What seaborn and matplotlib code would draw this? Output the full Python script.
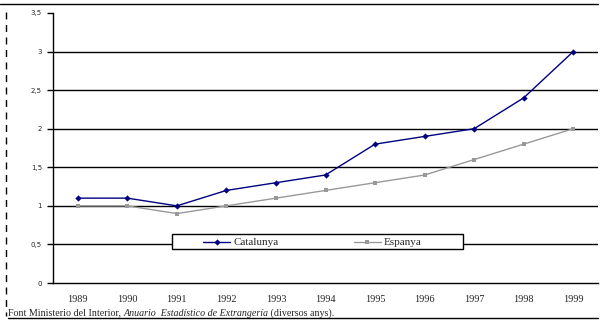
import matplotlib
matplotlib.use("Agg")
import matplotlib.pyplot as plt
import seaborn as sns
import pandas as pd
import numpy as np
from matplotlib.lines import Line2D
from matplotlib.patches import Rectangle

years = ["1989", "1990", "1991", "1992", "1993", "1994", "1995", "1996", "1997", "1998", "1999"]
catalunya = [1.1, 1.1, 1.0, 1.2, 1.3, 1.4, 1.8, 1.9, 2.0, 2.4, 3.0]
espanya = [1.0, 1.0, 0.9, 1.0, 1.1, 1.2, 1.3, 1.4, 1.6, 1.8, 2.0]
yticks = [0, 0.5, 1, 1.5, 2, 2.5, 3, 3.5]
ytick_labels = ["0", "0,5", "1", "1,5", "2", "2,5", "3", "3,5"]

sns.set_style("white")
plt.rcParams["font.family"] = ["Liberation Serif", "DejaVu Serif"]

fig = plt.figure(figsize=(6.06, 3.26), dpi=100)
ax = fig.add_axes([53/606, 1-283/326, 545/606, 270/326])

idx = np.arange(len(years))
df = pd.DataFrame({"x": idx, "Catalunya": catalunya, "Espanya": espanya})

for yv in yticks[1:-1]:
    ax.axhline(yv, color="black", lw=1.0, zorder=1)

sns.lineplot(data=df, x="x", y="Espanya", ax=ax, color="#999999", lw=1.0,
             marker="s", markersize=3.5, markeredgewidth=0, zorder=3)
sns.lineplot(data=df, x="x", y="Catalunya", ax=ax, color="#000080", lw=1.0,
             marker="D", markersize=3.2, markeredgewidth=0, zorder=4)

ax.set_xlim(-0.5, len(years) - 0.5)
ax.set_ylim(0, 3.5)
ax.set_xlabel("")
ax.set_ylabel("")
ax.set_xticks(idx)
ax.set_xticklabels(years, fontsize=7.4)
ax.set_xticks(np.arange(-0.5, len(years), 1), minor=True)
ax.tick_params(axis="x", which="major", length=0, pad=9)
ax.tick_params(axis="x", which="minor", length=4, width=1, color="black", direction="out")
ax.set_yticks(yticks)
ax.set_yticklabels(ytick_labels, fontsize=5, family="DejaVu Sans")
ax.tick_params(axis="y", length=4, width=1, color="black", direction="out", pad=4, left=True)
for s in ["top", "right"]:
    ax.spines[s].set_visible(False)
for s in ["left", "bottom"]:
    ax.spines[s].set_color("black")
    ax.spines[s].set_linewidth(1.0)

# legend box
bx, by, bw, bh = 119/545, 34/270, 291/545, 15/270
ax.add_patch(Rectangle((bx, by), bw, bh, transform=ax.transAxes, facecolor="white",
                       edgecolor="black", lw=1.0, zorder=9))
handles = [Line2D([], [], color="#000080", lw=1, marker="D", markersize=3.2, markeredgewidth=0),
           Line2D([], [], color="#999999", lw=1, marker="s", markersize=3.5, markeredgewidth=0)]
leg = ax.legend(handles, ["Catalunya", "Espanya"], loc="center",
                bbox_to_anchor=(bx + bw/2 - 0.009, by + bh/2 - 0.004), ncol=2, borderaxespad=0,
                fontsize=8, frameon=False, handlelength=2.4, handletextpad=0.3,
                borderpad=0, columnspacing=6.8)
leg.set_zorder(10)

# frame decorations
fig.add_artist(Line2D([0, 598/606], [1-4/326, 1-4/326], color="black", lw=1, transform=fig.transFigure))
fig.add_artist(Line2D([8/606, 598/606], [1-318/326, 1-318/326], color="black", lw=1, transform=fig.transFigure))
fig.add_artist(Line2D([6/606, 6/606], [1-12/326, 1-316/326], color="black", lw=1,
                      linestyle=(0, (5, 4)), transform=fig.transFigure))

ty = 1 - 313/326
t1 = fig.text(8/606, ty, "Font Ministerio del Interior, ", fontsize=7.2, va="center", ha="left")
t2 = fig.text(0, 0, "Anuario  Estadístico de Extrangería", fontsize=7.2, style="italic", va="center", ha="left")
t3 = fig.text(0, 0, " (diversos anys).", fontsize=7.2, va="center", ha="left")
fig.canvas.draw()
r = fig.canvas.get_renderer()
bb1 = t1.get_window_extent(r)
t2.set_position((bb1.x1 / fig.bbox.width, ty))
bb2 = t2.get_window_extent(r)
t3.set_position((bb2.x1 / fig.bbox.width, ty))

fig.savefig("out.png", dpi=100)
